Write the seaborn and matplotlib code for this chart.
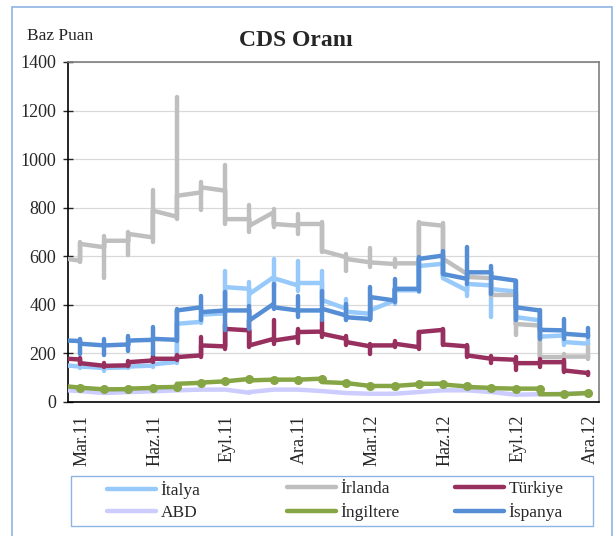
import matplotlib
matplotlib.use("Agg")
import matplotlib.pyplot as plt
import seaborn as sns
import numpy as np
from matplotlib.lines import Line2D
from matplotlib.patches import Rectangle
from matplotlib.transforms import ScaledTranslation

# months Mar.11 .. Ara.12 (node k = month k), series start half a month earlier
ay_etiket = ['Mar.11', 'Haz.11', 'Eyl.11', 'Ara.11', 'Mar.12', 'Haz.12', 'Eyl.12', 'Ara.12']
ay = np.arange(22)

seriler = ['İtalya', 'İrlanda', 'Türkiye', 'ABD', 'İngiltere', 'İspanya']
renk = ['#97C9FA', '#BFBFBF', '#98305F', '#CCCCFF', '#86A544', '#558ED5']

# value at line start, value arriving at each month, value leaving each month, spike range
italya_bas = 150
italya_gel = [146, 140, 143, 150, 165, 330, 365, 466, 514, 480, 490, 384, 363, 418, 460, 569, 459, 480, 455, 336, 274, 240]
italya_cik = [146, 140, 146, 155, 322, 360, 473, 445, 510, 490, 420, 372, 378, 460, 560, 510, 486, 465, 350, 269, 247]
italya_alt = [140, 128, 138, 145, 160, 325, 365, 390, 473, 459, 404, 336, 355, 404, 455, 514, 438, 349, 336, 267, 233, 233]
italya_ust = [152, 150, 152, 212, 325, 360, 541, 493, 589, 582, 541, 425, 385, 432, 562, 575, 486, 480, 455, 336, 274, 260]

irlanda_bas = 589
irlanda_gel = [582, 637, 664, 678, 763, 863, 870, 753, 781, 726, 733, 596, 575, 568, 571, 726, 527, 510, 441, 315, 185, 187]
irlanda_cik = [651, 664, 692, 788, 849, 884, 753, 726, 733, 733, 623, 589, 575, 571, 736, 590, 515, 441, 321, 185, 187]
irlanda_alt = [575, 511, 605, 657, 755, 790, 733, 699, 719, 692, 616, 541, 555, 555, 565, 585, 515, 438, 274, 185, 178, 178]
irlanda_ust = [658, 682, 700, 872, 1256, 904, 977, 812, 795, 774, 740, 610, 634, 589, 740, 735, 535, 515, 441, 315, 199, 226]

turkiye_bas = 178
turkiye_gel = [175, 149, 151, 171, 178, 192, 229, 295, 260, 268, 290, 260, 229, 233, 226, 297, 229, 178, 174, 160, 164, 119]
turkiye_cik = [160, 149, 164, 178, 185, 233, 301, 233, 253, 288, 281, 247, 233, 240, 288, 237, 192, 178, 160, 164, 130]
turkiye_alt = [155, 145, 148, 165, 175, 185, 219, 226, 240, 245, 267, 235, 199, 226, 219, 233, 185, 160, 130, 145, 123, 113]
turkiye_ust = [180, 160, 168, 190, 195, 267, 322, 336, 336, 300, 336, 270, 240, 253, 288, 300, 233, 188, 185, 178, 171, 125]

abd_bas = 48
abd_gel = [45, 37, 41, 44, 48, 51, 51, 38, 51, 51, 45, 37, 34, 34, 41, 48, 48, 41, 30, 32, 34, 37]
abd_cik = [45, 37, 41, 44, 48, 51, 51, 41, 51, 51, 45, 37, 34, 34, 41, 48, 48, 41, 30, 32, 34]

ingiltere_bas = 64
ingiltere_gel = [59, 52, 53, 58, 62, 79, 85, 95, 92, 92, 96, 78, 66, 66, 73, 75, 64, 58, 55, 55, 32, 37]
ingiltere_cik = [59, 52, 55, 60, 75, 80, 85, 89, 92, 92, 82, 78, 66, 66, 75, 72, 62, 57, 55, 32, 32]

ispanya_bas = 253
ispanya_gel = [251, 233, 237, 256, 256, 390, 377, 377, 404, 377, 377, 356, 342, 418, 466, 603, 507, 534, 500, 377, 295, 274]
ispanya_cik = [240, 233, 253, 260, 377, 370, 377, 336, 390, 377, 384, 349, 432, 466, 589, 527, 534, 514, 390, 297, 281]
ispanya_alt = [199, 192, 212, 199, 250, 336, 295, 301, 384, 349, 336, 336, 336, 411, 459, 527, 486, 445, 336, 260, 260, 267]
ispanya_ust = [260, 260, 270, 308, 384, 438, 452, 397, 486, 438, 459, 404, 473, 507, 596, 623, 637, 562, 500, 377, 342, 305]

veri = [
    (italya_bas, italya_gel, italya_cik, italya_alt, italya_ust),
    (irlanda_bas, irlanda_gel, irlanda_cik, irlanda_alt, irlanda_ust),
    (turkiye_bas, turkiye_gel, turkiye_cik, turkiye_alt, turkiye_ust),
    (abd_bas, abd_gel, abd_cik, None, None),
    (ingiltere_bas, ingiltere_gel, ingiltere_cik, None, None),
    (ispanya_bas, ispanya_gel, ispanya_cik, ispanya_alt, ispanya_ust),
]

sns.set_style('white')
plt.rcParams['font.family'] = ['Liberation Serif', 'DejaVu Serif']

fig = plt.figure(figsize=(6.16, 5.36), dpi=100)
ax = fig.add_axes([68 / 616, 1 - 402 / 536, 531 / 616, 340 / 536])

lw = 3.2
for i, (ad, (bas, gel, cik, alt, ust)) in enumerate(zip(seriler, veri)):
    xs = [-0.5]
    ys = [bas]
    for k in ay:
        xs.append(k)
        ys.append(gel[k])
        if k < len(cik):
            xs.append(k)
            ys.append(cik[k])
    z = 3 + i * 0.1
    sns.lineplot(x=xs, y=ys, sort=False, estimator=None, color=renk[i], lw=lw,
                 solid_capstyle='round', solid_joinstyle='round', ax=ax, zorder=z)
    if alt is not None:
        ax.vlines(ay, alt, ust, colors=renk[i], lw=lw, capstyle='round', zorder=z)
    if ad == 'İngiltere':
        ax.plot(ay, gel, 'o', color=renk[i], ms=5.5, zorder=z)

ax.set_xlim(-0.5, 21.45)
ax.set_ylim(0, 1400)
ax.set_yticks(range(0, 1401, 200))
ax.set_xticks(ay[::3])
ax.set_xticklabels(ay_etiket, rotation=90)
ax.set_xticks(np.arange(-0.5, 21, 3), minor=True)
ax.tick_params(axis='x', which='major', length=0, pad=9, labelsize=13)
ax.tick_params(axis='x', which='minor', length=8, direction='inout', width=1, color='black')
ax.tick_params(axis='y', length=7, direction='inout', width=1, labelsize=13, pad=5, left=True)
kaydir = ScaledTranslation(2 / 100, 0, fig.dpi_scale_trans)
for t in ax.get_xticklabels():
    t.set_transform(t.get_transform() + kaydir)
ax.grid(axis='y', color='#D9D9D9', lw=0.9)
ax.set_axisbelow(True)
ax.set_xlabel('')
ax.set_ylabel('')
for s in ['left', 'bottom']:
    ax.spines[s].set_color('black')
    ax.spines[s].set_linewidth(1.2)
for s in ['top', 'right']:
    ax.spines[s].set_color('#7F7F7F')
    ax.spines[s].set_linewidth(1.2)

if ax.get_legend():
    ax.get_legend().remove()

fig.text(27 / 616, 1 - 36 / 536, 'Baz Puan', fontsize=12.5, va='center', ha='left')
fig.text(296 / 616, 1 - 40 / 536, 'CDS Oranı', fontsize=17, fontweight='bold', va='center', ha='center')

# legend: three columns placed separately, frame drawn as a rectangle
tutamak = [Line2D([], [], color=c, lw=lw, solid_capstyle='round') for c in renk]
sutun_x = [107, 287, 455]
for j, x0 in enumerate(sutun_x):
    leg = fig.legend([tutamak[j], tutamak[j + 3]], [seriler[j], seriler[j + 3]],
                     loc='center left', bbox_to_anchor=(x0 / 616, 1 - 501 / 536),
                     frameon=False, fontsize=12.5, borderpad=0, borderaxespad=0,
                     handlelength=2.85, handletextpad=0.25, labelspacing=0.3)
fig.patches.append(Rectangle((70.5 / 616, 1 - 526 / 536), 522 / 616, 50 / 536, transform=fig.transFigure,
                             fill=False, edgecolor='#8EB4E3', lw=1))

fig.patches.append(Rectangle((12 / 616, -0.1), 600 / 616, 1.1 - 7 / 536, transform=fig.transFigure,
                             fill=False, edgecolor='#8EB4E3', lw=1.2))

fig.savefig('out.png', dpi=100)
